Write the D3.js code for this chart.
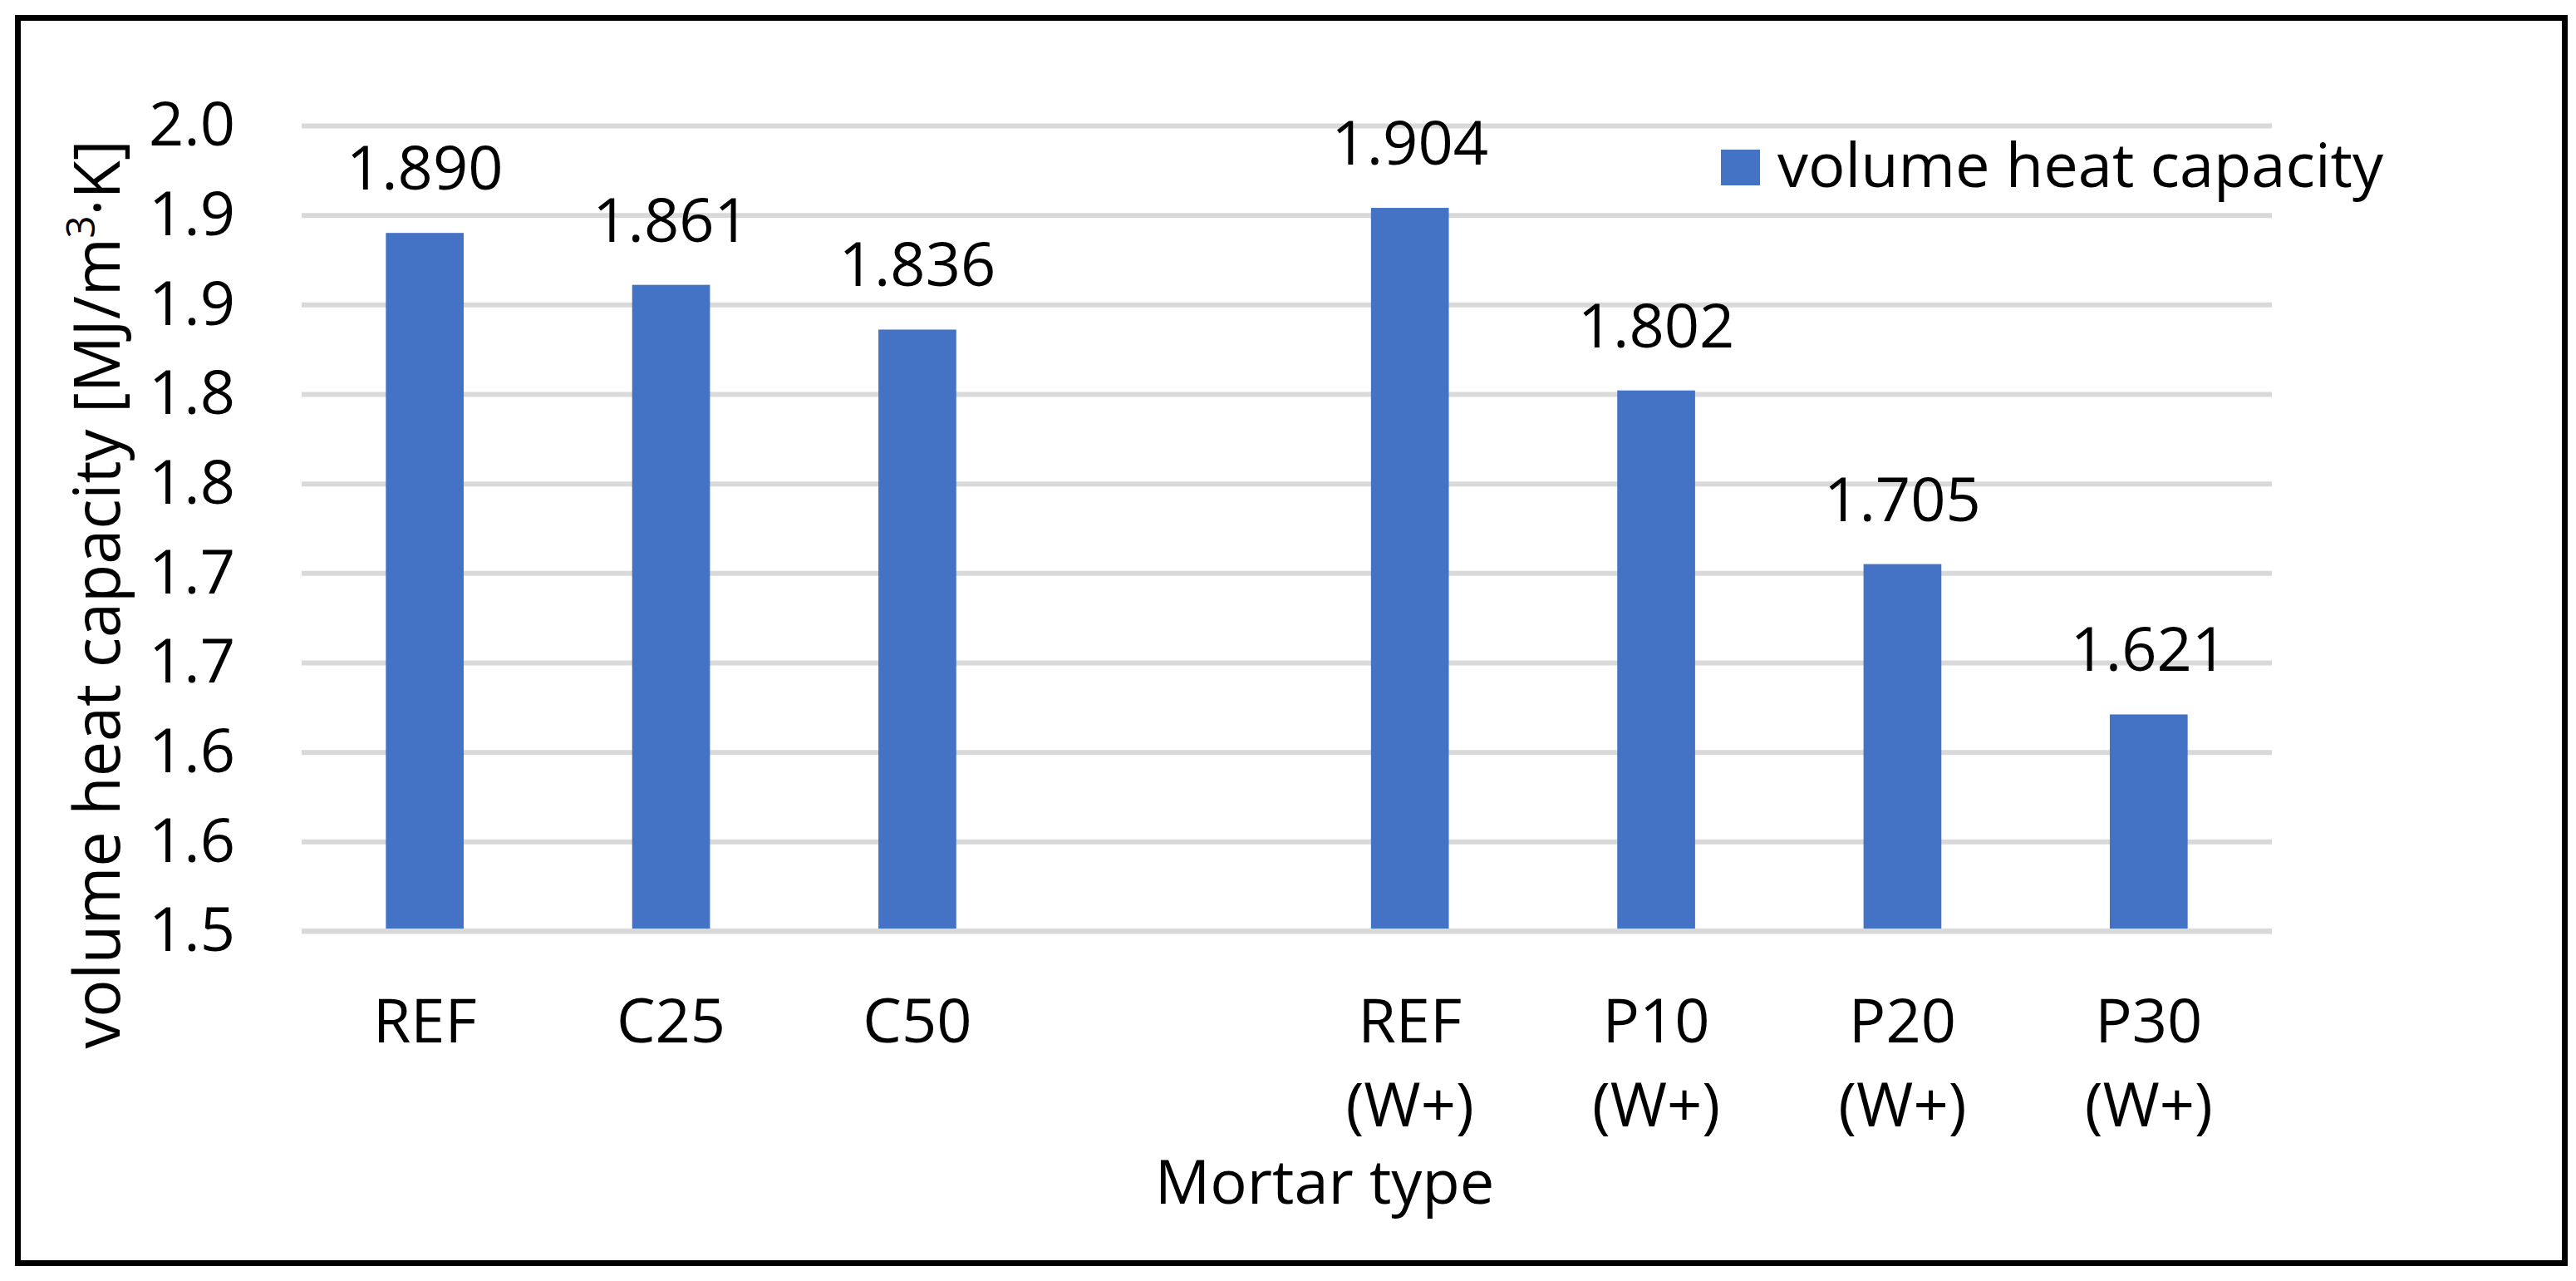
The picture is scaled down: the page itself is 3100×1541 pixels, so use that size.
<!DOCTYPE html>
<html>
<head>
<meta charset="utf-8">
<script src="https://cdn.jsdelivr.net/npm/d3@7"></script>
<style>
  body { margin: 0; background: #fff; }
  text { font-family: "Open Sans", "Noto Sans", sans-serif; fill: #000; }
</style>
</head>
<body>
<svg width="3100" height="1541"></svg>
<script>
// data
var categories = ["REF", "C25", "C50", "", "REF (W+)", "P10 (W+)", "P20 (W+)", "P30 (W+)"];
var labelLine1 = ["REF", "C25", "C50", "", "REF", "P10", "P20", "P30"];
var labelLine2 = ["", "", "", "", "(W+)", "(W+)", "(W+)", "(W+)"];
var values = [1.890, 1.861, 1.836, null, 1.904, 1.802, 1.705, 1.621];
var tickValues = [1.5, 1.55, 1.6, 1.65, 1.7, 1.75, 1.8, 1.85, 1.9, 1.95];
var tickLabels = ["1.5", "1.6", "1.6", "1.7", "1.7", "1.8", "1.8", "1.9", "1.9", "2.0"];
var seriesName = "volume heat capacity";

var svg = d3.select("svg"),
    plotLeft = 363, plotRight = 2734, plotTop = 151, plotBottom = 1120,
    fs = 74,
    barColor = "#4472C4";

// outer frame
svg.append("rect")
   .attr("x", 21.5).attr("y", 21.5)
   .attr("width", 3065).attr("height", 1498)
   .attr("fill", "#fff").attr("stroke", "#000").attr("stroke-width", 7);

var x = d3.scaleBand().domain(categories).range([plotLeft, plotRight])
          .paddingInner(0.684).paddingOuter(0.342);
var y = d3.scaleLinear().domain([1.5, 1.95]).range([plotBottom, plotTop]);

// y axis with gridlines
var yAxis = svg.append("g")
   .attr("transform", "translate(" + plotLeft + ",0)")
   .call(d3.axisLeft(y)
      .tickValues(tickValues)
      .tickFormat(function(d, i) { return tickLabels[i]; })
      .tickSizeInner(-(plotRight - plotLeft))
      .tickSizeOuter(0)
      .tickPadding(80));
yAxis.select(".domain").remove();
yAxis.selectAll("line").attr("stroke", "#d9d9d9").attr("stroke-width", 6);
yAxis.selectAll("text").attr("font-size", fs).attr("font-family", "Open Sans").attr("fill", "#000");

// bars
var data = categories.map(function(c, i) { return {cat: c, v: values[i]}; })
                     .filter(function(d) { return d.v != null; });

svg.selectAll("rect.bar").data(data).enter().append("rect")
   .attr("class", "bar")
   .attr("x", function(d) { return x(d.cat); })
   .attr("width", x.bandwidth())
   .attr("y", function(d) { return y(d.v); })
   .attr("height", function(d) { return y(1.5) - y(d.v); })
   .attr("fill", barColor);

// baseline gridline back on top of bar feet
svg.append("line")
   .attr("x1", plotLeft).attr("x2", plotRight)
   .attr("y1", y(1.5)).attr("y2", y(1.5))
   .attr("stroke", "#d9d9d9").attr("stroke-width", 6);

// value labels
svg.selectAll("text.val").data(data).enter().append("text")
   .attr("class", "val")
   .attr("x", function(d) { return x(d.cat) + x.bandwidth() / 2; })
   .attr("y", function(d) { return y(d.v) - 52; })
   .attr("text-anchor", "middle")
   .attr("font-size", fs)
   .text(function(d) { return d3.format(".3f")(d.v); });

// category labels (two lines)
var catText = svg.selectAll("text.cat").data(categories).enter().append("text")
   .attr("class", "cat")
   .attr("text-anchor", "middle")
   .attr("font-size", fs)
   .attr("x", function(d) { return x(d) + x.bandwidth() / 2; })
   .attr("y", plotBottom + 134);
catText.append("tspan").text(function(d, i) { return labelLine1[i]; });
catText.append("tspan")
   .attr("x", function(d) { return x(d) + x.bandwidth() / 2; })
   .attr("dy", 101)
   .text(function(d, i) { return labelLine2[i]; });

// x axis title
svg.append("text")
   .attr("x", 1594).attr("y", 1448)
   .attr("text-anchor", "middle")
   .attr("font-size", fs)
   .text("Mortar type");

// y axis title, squeezed to the length seen in the chart
var yTitle = svg.append("text")
   .attr("text-anchor", "middle")
   .attr("font-size", 77)
   .attr("transform", "translate(144,715) rotate(-90)");
yTitle.append("tspan").text("volume heat capacity [MJ/m");
yTitle.append("tspan").attr("font-size", 48).attr("dy", -30).text("3");
yTitle.append("tspan").attr("dy", 30).text("·K]");
var len = yTitle.node().getComputedTextLength();
yTitle.attr("transform", "translate(144,715) rotate(-90) scale(" + (1093 / len) + ",1)");

// legend
svg.append("rect")
   .attr("x", 2071).attr("y", 180)
   .attr("width", 47).attr("height", 43)
   .attr("fill", barColor);
svg.append("text")
   .attr("x", 2139).attr("y", 225)
   .attr("font-size", fs)
   .text(seriesName);
</script>
</body>
</html>
